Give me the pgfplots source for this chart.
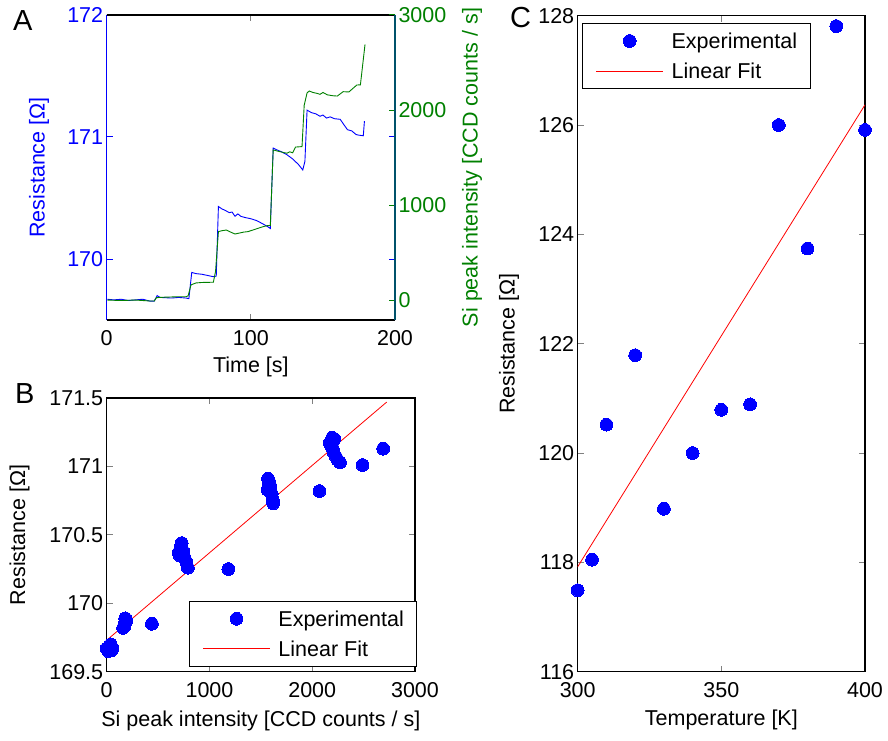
\documentclass[border=0pt]{standalone}
\usepackage{fontspec}
\setmainfont{Liberation Sans}
\usepackage{pgfplots}
\pgfplotsset{compat=1.18}

\definecolor{mblue}{rgb}{0,0,1}
\definecolor{mgreen}{rgb}{0,0.5,0}
\definecolor{mteal}{rgb}{0,0.32,0.42}
\definecolor{mred}{rgb}{1,0,0}

\newcommand{\fs}{\fontsize{21.5}{25}\selectfont}
\newcommand{\letterfont}{\fontsize{29}{32}\selectfont}

\pgfplotsset{
  every axis/.append style={
    scale only axis,
    anchor=south west,
    font=\fs,
    tick label style={font=\fs},
    xticklabel style={yshift=-7pt},
    label style={font=\fs},
    /pgf/number format/assume math mode=true,
    /pgf/number format/1000 sep={},
    scaled ticks=false,
    major tick length=6pt,
    tick align=inside,
    axis line style={line width=1.2pt},
    tick style={line width=1pt},
  },
  mleg/.style={
    legend cell align=left,
    legend style={font=\fs, draw=black, line width=1.1pt, fill=white,
      inner xsep=13pt, inner ysep=7pt, row sep=9pt,
      nodes={inner sep=0pt, text height=18pt, text depth=3pt},
      /tikz/every odd column/.append style={column sep=8pt}},
  },
  dotleg/.style={legend image code/.code={%
    \draw[mark repeat=2,mark phase=2,##1] plot coordinates {(0pt,0pt) (33.5pt,0pt) (67pt,0pt)};}},
  lineleg/.style={legend image code/.code={%
    \draw[##1] (0pt,0pt) -- (67pt,0pt);}},
}

% resistance and Si signal versus time
\pgfplotstableread{
t R
0.5 169.67
5 169.665
10 169.67
15 169.66
20 169.665
25 169.67
30 169.655
33 169.655
35 169.70
37 169.685
45 169.68
50 169.685
55 169.68
57 169.675
59 169.89
62 169.88
66 169.875
70 169.865
74 169.855
76 169.86
77.5 170.43
80 170.41
82 170.40
85 170.38
87 170.385
89 170.35
91 170.37
93 170.35
96 170.34
100 170.33
104 170.315
108 170.29
111 170.27
113.5 170.25
115.5 170.91
118 170.895
121 170.88
125 170.855
129 170.82
133 170.775
136 170.73
137.5 170.80
139 171.22
142 171.20
145 171.19
148 171.17
150 171.18
152.5 171.155
155 171.165
158 171.15
162 171.145
164 171.11
167 171.06
170 171.05
173 171.02
175 171.015
178 171.01
178.8 171.13
}\resdata

\pgfplotstableread{
t G
0.5 0
10 -5
20 0
30 -10
33 -10
34.5 25
40 30
50 35
55 35
56.5 45
58.5 160
62 180
66 185
70 186
74 188
75.5 300
77.5 720
80 730
83 737
86 715
89 695
92 705
95 715
98 720
101 735
104 750
108 770
111 782
113.5 785
115.5 1580
118 1570
122 1555
125 1545
127 1560
129 1550
131 1610
135.5 1615
137 2050
139 2180
140.5 2200
143 2185
146 2175
148 2165
150 2185
153 2160
157 2150
160 2147
162 2170
164 2193
168 2190
171 2230
173.5 2263
176 2265
179.2 2690
}\sidata

% resistance versus Si signal
\pgfplotstableread{
S R
0 169.67
10 169.66
15 169.65
25 169.68
30 169.67
40 169.70
45 169.655
55 169.67
160 169.82
170 169.83
175 169.85
180 169.89
190 169.87
440 169.85
700 170.37
710 170.35
720 170.41
730 170.44
745 170.38
760 170.33
775 170.30
790 170.26
1184 170.25
1565 170.83
1570 170.91
1575 170.88
1580 170.89
1590 170.86
1605 170.80
1615 170.76
1620 170.73
2070 170.82
2170 171.17
2185 171.15
2195 171.21
2200 171.13
2210 171.10
2215 171.20
2230 171.07
2245 171.05
2270 171.03
2490 171.01
2690 171.13
}\rsdata

% resistance versus temperature
\pgfplotstableread{
T R
300 117.49
305 118.05
310 120.52
320 121.79
330 118.98
340 120.00
350 120.79
360 120.89
370 126.00
380 123.74
390 127.81
400 125.91
}\rtdata

\begin{document}
\begin{tikzpicture}
\path[use as bounding box] (0pt,0pt) rectangle (888pt,740pt);

% ---- A: resistance (left) ----
\begin{axis}[
  at={(106.7pt,420pt)}, width=288.3pt, height=305pt,
  xmin=0, xmax=200, ymin=169.5, ymax=172,
  xtick={0,100,200}, ytick={170,171,172},
  separate axis lines,
  y axis line style={mblue},
  ytick style={mblue},
  yticklabel style={mblue},
  xlabel={Time [s]},
  xlabel style={at={(axis description cs:0.5,-0.154)}, anchor=center},
  ylabel={Resistance [Ω]},
  ylabel style={mblue, at={(axis description cs:-0.235,0.5)}, anchor=center},
]
\addplot[mblue, line width=0.9pt] table[x=t, y=R] {\resdata};
\end{axis}

% ---- A: Si peak intensity (right) ----
\begin{axis}[
  at={(106.7pt,420pt)}, width=288.3pt, height=305pt,
  xmin=0, xmax=200, ymin=-210, ymax=3000,
  axis x line=none, axis y line*=right,
  ytick={0,1000,2000,3000},
  y axis line style={mteal},
  ytick style={mgreen},
  yticklabel style={mgreen},
  ylabel={Si peak intensity [CCD counts / s]},
  ylabel style={mgreen, at={(axis description cs:1.267,0.5)}, anchor=center},
]
\addplot[mgreen, line width=0.9pt] table[x=t, y=G] {\sidata};
\end{axis}

% ---- B ----
\begin{axis}[
  at={(106.7pt,68.3pt)}, width=308.3pt, height=273.7pt,
  xmin=0, xmax=3000, ymin=169.5, ymax=171.5,
  xtick={0,1000,2000,3000}, ytick={169.5,170,170.5,171,171.5},
  yticklabel style={/pgf/number format/.cd, fixed, precision=1},
  xlabel={Si peak intensity [CCD counts / s]},
  xlabel style={at={(axis description cs:0.5,-0.179)}, anchor=center},
  ylabel={Resistance [Ω]},
  ylabel style={at={(axis description cs:-0.283,0.5)}, anchor=center},
  mleg,
  legend style={at={(rel axis cs:1.008,0.018)}, anchor=south east},
]
\addplot[only marks, mark=*, mark size=6.4pt, mark options={draw=mblue, fill=mblue, line width=0pt}, dotleg]
  table[x=S, y=R] {\rsdata};
\addlegendentry{Experimental}
\addplot[mred, line width=0.8pt, lineleg] coordinates {(0,169.73) (2724,171.47)};
\addlegendentry{Linear Fit}
\end{axis}

% ---- C ----
\begin{axis}[
  at={(577.7pt,68.3pt)}, width=287.3pt, height=656pt,
  xmin=300, xmax=400, ymin=116, ymax=128,
  xtick={300,350,400}, ytick={116,118,...,128},
  xlabel={Temperature [K]},
  xlabel style={at={(axis description cs:0.5,-0.0741)}, anchor=center},
  ylabel={Resistance [Ω]},
  ylabel style={at={(axis description cs:-0.239,0.5)}, anchor=center},
  mleg,
  legend style={at={(rel axis cs:0.016,0.989)}, anchor=north west},
]
\addplot[only marks, mark=*, mark size=6.4pt, mark options={draw=mblue, fill=mblue, line width=0pt}, dotleg]
  table[x=T, y=R] {\rtdata};
\addlegendentry{Experimental}
\addplot[mred, line width=0.8pt, lineleg] coordinates {(300,117.92) (400,126.37)};
\addlegendentry{Linear Fit}
\end{axis}

% panel letters
\node[anchor=north west, inner sep=0pt, font=\letterfont] at (13pt,730pt) {A};
\node[anchor=north west, inner sep=0pt, font=\letterfont] at (15pt,357pt) {B};
\node[anchor=north west, inner sep=0pt, font=\letterfont] at (510pt,733pt) {C};
\end{tikzpicture}
\end{document}
